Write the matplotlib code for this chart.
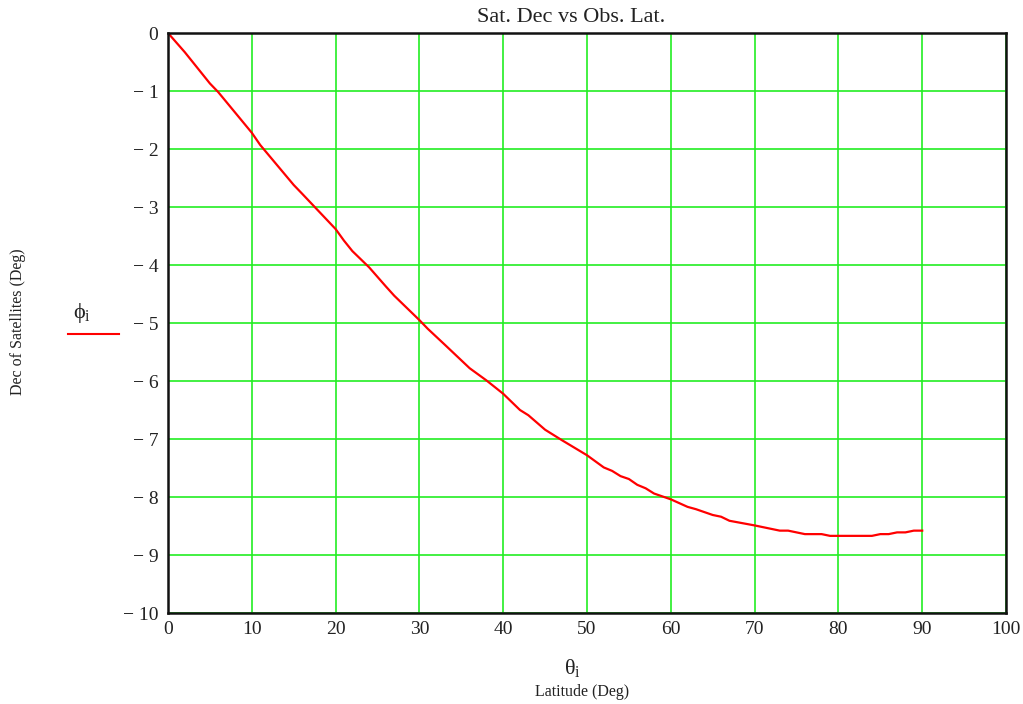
import matplotlib
matplotlib.use("Agg")
import matplotlib.pyplot as plt

# Data
latitude = [0, 2, 5, 6, 10, 11, 15, 16, 20, 21, 22, 24, 26, 27, 30, 31, 33, 36, 38,
            40, 42, 43, 45, 47, 50, 52, 53, 54, 55, 56, 57, 58, 60, 62, 63, 65, 66,
            67, 70, 73, 74, 76, 78, 79, 84, 85, 86, 87, 88, 89, 90]
declination = [0, -0.33, -0.87, -1.02, -1.72, -1.93, -2.62, -2.77, -3.38, -3.58, -3.76,
               -4.04, -4.37, -4.53, -4.95, -5.10, -5.37, -5.78, -5.99, -6.22, -6.50,
               -6.59, -6.84, -7.02, -7.28, -7.49, -7.55, -7.64, -7.69, -7.79, -7.85,
               -7.94, -8.04, -8.17, -8.21, -8.31, -8.34, -8.41, -8.49, -8.58, -8.58,
               -8.64, -8.64, -8.67, -8.67, -8.64, -8.64, -8.61, -8.61, -8.58, -8.58]
x_ticks = [0, 10, 20, 30, 40, 50, 60, 70, 80, 90, 100]
y_ticks = [0, -1, -2, -3, -4, -5, -6, -7, -8, -9, -10]

plt.rcParams['font.family'] = ['Liberation Serif', 'DejaVu Serif']
plt.rcParams['mathtext.fontset'] = 'custom'
plt.rcParams['mathtext.rm'] = 'Liberation Serif'
plt.rcParams['mathtext.it'] = 'Liberation Serif'

fig = plt.figure(figsize=(10.23, 7.04), dpi=100)
ax = fig.add_axes([168 / 1023, 1 - 613 / 704, (1006 - 168) / 1023, (613 - 33) / 704])

grid_color = '#22ee22'
for xv in x_ticks:
    ax.axvline(xv, color=grid_color, lw=1.2, zorder=1)
for yv in y_ticks:
    ax.axhline(yv, color=grid_color, lw=1.2, zorder=1)

ax.plot(latitude, declination, color='#ff0000', lw=1.6, zorder=3)

ax.set_xlim(0, 100)
ax.set_ylim(-10, 0)
ax.set_xticks(x_ticks)
ax.set_yticks(y_ticks)
ax.set_xticklabels([str(v) for v in x_ticks])
ax.set_yticklabels([('\u2212 ' + str(-v)) if v < 0 else str(v) for v in y_ticks])
ax.tick_params(axis='both', length=0, labelsize=14, colors='#222222', pad=7)
ax.tick_params(axis='x', pad=6)
for sp in ax.spines.values():
    sp.set_color('#111111')
    sp.set_linewidth(1.8)
    sp.set_zorder(4)

fig.text(571 / 1023, 1 - 18 / 704, 'Sat. Dec vs Obs. Lat.', ha='center', va='center',
         fontsize=16, color='#222222')
fig.text(18 / 1023, 1 - 322 / 704, 'Dec of Satellites (Deg)', ha='center', va='center',
         rotation=90, fontsize=11.5, color='#222222')
fig.text(582 / 1023, 1 - 692 / 704, 'Latitude (Deg)', ha='center', va='center',
         fontsize=11.5, color='#222222')
fig.text(572 / 1023, 1 - 668 / 704, r'$\theta_{\rm i}$', ha='center', va='center',
         fontsize=16, color='#222222')
fig.text(82 / 1023, 1 - 313 / 704, r'$\phi_{\rm i}$', ha='center', va='center',
         fontsize=16, color='#222222')
fig.add_artist(plt.Line2D([68 / 1023, 119 / 1023], [1 - 334 / 704, 1 - 334 / 704],
                          color='#ff0000', lw=1.5))

fig.savefig('out.png', dpi=100)
